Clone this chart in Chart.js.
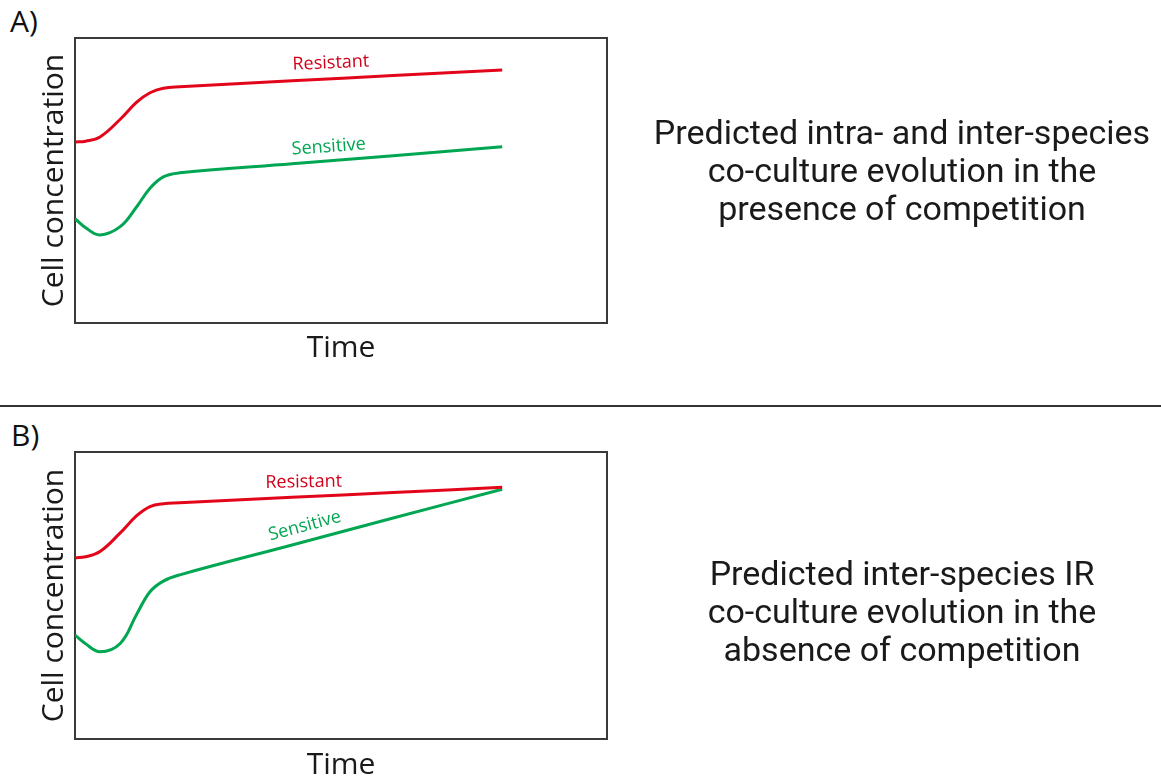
<!DOCTYPE html>
<html>
<head>
<meta charset="utf-8">
<script src="https://cdn.jsdelivr.net/npm/chart.js@4"></script>
<style>
  html, body { margin: 0; padding: 0; background: #fff; overflow: hidden; }
  body { width: 1161px; height: 780px; position: relative; }
  .panel { position: absolute; left: 0; }
  .tag { position: absolute; font-family: 'Open Sans', sans-serif; font-size: 30px; color: #111; line-height: 1; }
  .note { position: absolute; left: 602px; width: 600px; text-align: center;
          font-family: Roboto, sans-serif; font-size: 34px; line-height: 38px; color: #1a1a1a; }
  .rule { position: absolute; left: 0; top: 405px; width: 1161px; height: 2px; background: #333; }
</style>
</head>
<body>
<div class="tag" style="left:10px; top:6px;">A)</div>
<div class="panel" style="top:0;"><canvas id="chart-a" width="620" height="375"></canvas></div>
<div class="note" style="top:113px;">Predicted intra- and inter-species<br>co-culture evolution in the<br>presence of competition</div>

<div class="rule"></div>

<div class="tag" style="left:11px; top:420px;">B)</div>
<div class="panel" style="top:414px;"><canvas id="chart-b" width="620" height="375"></canvas></div>
<div class="note" style="top:554px;">Predicted inter-species IR<br>co-culture evolution in the<br>absence of competition</div>

<script>
// Time points (relative units, axis runs 0..100)
const timeA = [0, 2, 4.7, 8.5, 11.6, 14.1, 16.6, 19.7, 40.8, 59.8, 80.3];
const timeB = [0, 2, 4.7, 8.5, 11.6, 14.1, 16.6, 19.7, 40.8, 59.8, 80.3];

// Panel A: with competition
const resistantA = [63.5, 63.8, 65.3, 71.5, 77.5, 80.8, 82.4, 82.9, 85.0, 86.8, 88.8];
const sensitiveA = [36.6, 33.4, 30.9, 33.8, 40.8, 47.3, 51.3, 52.7, 55.9, 58.7, 61.8];

// Panel B: without competition
const resistantB = [63.1, 63.5, 65.3, 71.8, 77.8, 81.0, 82.0, 82.3, 84.2, 85.9, 87.7];
const sensitiveB = [36.2, 33.2, 30.4, 33.3, 43.5, 51.3, 55.0, 57.2, 67.6, 77.0, 87.0];

const RED = '#e3061b';
const GREEN = '#00a651';

function pairs(xs, ys) {
  return xs.map((x, i) => ({ x: x, y: ys[i] }));
}

// box around the plot area
const framePlugin = {
  id: 'frame',
  beforeDatasetsDraw(chart) {
    const { ctx, chartArea: a } = chart;
    ctx.save();
    ctx.strokeStyle = '#3a3a3a';
    ctx.lineWidth = 2;
    ctx.strokeRect(a.left, a.top, a.right - a.left, a.bottom - a.top);
    ctx.restore();
  }
};

// text labels sitting on the curves
const curveLabelPlugin = {
  id: 'curveLabels',
  afterDatasetsDraw(chart, args, opts) {
    const { ctx, scales } = chart;
    (opts.items || []).forEach(item => {
      const px = scales.x.getPixelForValue(item.x);
      const py = scales.y.getPixelForValue(item.y);
      ctx.save();
      ctx.translate(px, py);
      ctx.rotate(item.angle * Math.PI / 180);
      ctx.font = '18px "Open Sans", sans-serif';
      ctx.fillStyle = item.color;
      ctx.textAlign = 'center';
      ctx.textBaseline = 'middle';
      ctx.fillText(item.text, 0, 0);
      ctx.restore();
    });
  }
};

function makeChart(id, time, resistant, sensitive, labels, xAxisHeight, timePad) {
  const ctx = document.getElementById(id).getContext('2d');
  return new Chart(ctx, {
    type: 'line',
    data: {
      datasets: [{
        label: 'Resistant',
        data: pairs(time, resistant),
        borderColor: RED,
        borderWidth: 3,
        pointRadius: 0,
        tension: 0.4
      }, {
        label: 'Sensitive',
        data: pairs(time, sensitive),
        borderColor: GREEN,
        borderWidth: 3,
        pointRadius: 0,
        tension: 0.4
      }]
    },
    options: {
      responsive: false,
      animation: false,
      devicePixelRatio: 1,
      layout: { padding: { top: 38, right: 13, left: 0, bottom: 0 } },
      plugins: {
        legend: { display: false },
        tooltip: { enabled: false },
        curveLabels: { items: labels }
      },
      scales: {
        x: {
          type: 'linear',
          min: 0,
          max: 100,
          ticks: { display: false },
          grid: { display: false },
          border: { display: false },
          title: {
            display: true,
            text: 'Time',
            color: '#1a1a1a',
            font: { family: 'Open Sans', size: 30 },
            padding: { top: 0, bottom: timePad }
          },
          afterFit(scale) { scale.height = xAxisHeight; }
        },
        y: {
          min: 0,
          max: 100,
          ticks: { display: false },
          grid: { display: false },
          border: { display: false },
          title: {
            display: true,
            text: 'Cell concentration',
            color: '#1a1a1a',
            font: { family: 'Open Sans', size: 30 },
            padding: { top: 36, bottom: 0 }
          },
          afterFit(scale) { scale.width = 75; }
        }
      }
    },
    plugins: [framePlugin, curveLabelPlugin]
  });
}

makeChart('chart-a', timeA, resistantA, sensitiveA, [
  { text: 'Resistant', x: 48.1, y: 91.2, angle: -2.5, color: '#d0021b' },
  { text: 'Sensitive', x: 47.7, y: 61.8, angle: -4, color: GREEN }
], 52, 9);

makeChart('chart-b', timeB, resistantB, sensitiveB, [
  { text: 'Resistant', x: 43.0, y: 89.5, angle: -1, color: '#d0021b' },
  { text: 'Sensitive', x: 43.2, y: 74.2, angle: -15, color: GREEN }
], 50, 6);
</script>
</body>
</html>
